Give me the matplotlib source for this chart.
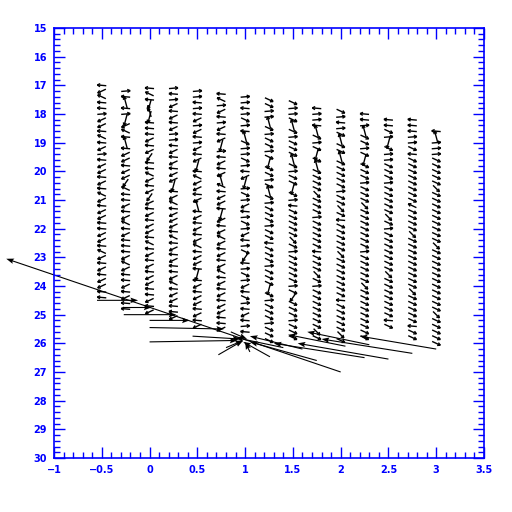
import numpy as np
import matplotlib.pyplot as plt
from matplotlib.collections import LineCollection
from matplotlib.ticker import MultipleLocator

# ---------------------------------------------------------
# data
# ---------------------------------------------------------
col_x = [-0.5, -0.25, 0.0, 0.25, 0.5, 0.75, 1.0, 1.25, 1.5, 1.75, 2.0, 2.25, 2.5, 2.75, 3.0]
col_top = [17.0, 17.2, 17.1, 17.1, 17.2, 17.3, 17.4, 17.5, 17.6, 17.8, 17.9, 18.0, 18.2, 18.2, 18.6]
row_step = 0.2

# one code per grid point, top to bottom (screen direction of the small arrow)
col_dirs = [
    "lzqllrzzlqlzrlzzlzlqzlzzllzzlqzlzlzzll",
    "rlUlrDzqlUlzzlzzZqllzlzqlzlllzqzllzlzll",
    "lqlDUDlllzlzZllqzlzZzlzlzzlqlzlzlzzllzlz",
    "rlrzlzlzrrlzlzlzzDlzqlzzzlqlzlzllzqlzzllz",
    "rrlrlzrzlrzlzDlqzzlzUlzlzlzqlzzlDlzlzzlzlz",
    "lqrzlrzlzDrlzlzUqlzzlDzlzqzlzlzqlzlzlzzllz",
    "rrlrcrlUcrrcrlzDrcrzlrcrzlrcZlrcrzlcrlzlrl",
    "ccrrUcrccrcDccrcUcrcccrcclcccrcccDcrcccrccc",
    "crrcUcrcccUcrccDcrlcccccCcrcccccrcZcccrccc",
    "lrrlUcrcDcUccccCcccrccccclcccCcrcccccccCc",
    "crlrcUccUcccccrccCclcccccCccccccclcccccCc",
    "llrUccrcDcccrcccCcccccccrcccccCccccccccc",
    "llcrDcrrcccrcccccCcrcccccccCccccccclc",
    "lllrrclccccccccqccccCcccccccccCccccclcc",
    "lUrrrcccccCcccccccccCcccccccccccCccccc",
]
dir_angle = {"l": 175, "q": 155, "z": 205, "Z": 235, "d": 270, "D": 255,
             "r": 5, "c": -25, "C": -45, "e": 30, "u": 90, "U": 105}
dir_len = {"U": 12, "D": 12}

# long arrows: tail x, tail y, head x, head y
long_x0 = [2.0, -0.55, -0.27, -0.27, 0.0, 0.0, 0.0, 0.45, 0.72, 1.26, 1.75, 2.25, 2.5, 2.75, 3.0, 1.4, 1.6, 2.05, 2.3, 0.8, 0.85, 1.05]
long_y0 = [27.0, 24.5, 24.75, 25.0, 25.2, 25.45, 25.95, 25.75, 26.4, 26.47, 26.6, 26.5, 26.55, 26.35, 26.2, 26.15, 26.2, 26.1, 26.05, 26.15, 25.6, 26.3]
long_x1 = [-1.5, -0.12, 0.02, 0.28, 0.42, 0.78, 0.92, 0.95, 0.98, 0.98, 1.05, 1.3, 1.55, 1.8, 2.2, 0.9, 1.05, 1.45, 1.65, 0.98, 1.02, 1.0]
long_y1 = [23.05, 24.5, 24.75, 25.0, 25.2, 25.5, 25.9, 25.85, 25.9, 25.95, 25.95, 26.0, 26.0, 25.85, 25.75, 25.8, 25.75, 25.7, 25.6, 25.9, 25.85, 25.95]

# ---------------------------------------------------------
# figure
# ---------------------------------------------------------
blue = "#0000ff"
fig = plt.figure(figsize=(5.12, 5.12), dpi=100)
ax = fig.add_axes([0.1055, 0.1055, 0.8398, 0.8398])
ax.set_xlim(-1, 3.5)
ax.set_ylim(30, 15)

# pixels per data unit (axes box is 430 px square)
px_x = 430 / 4.5
px_y = 430 / 15.0


def to_data(x, y, px, py):
    # pixel offset (screen, y up) -> data point
    return (x + px / px_x, y - py / px_y)


# small arrows: shaft + open chevron head
segs = []
for cx, top, codes in zip(col_x, col_top, col_dirs):
    for i, ch in enumerate(codes):
        a = np.deg2rad(dir_angle[ch])
        L = dir_len.get(ch, 9)
        y = top + row_step * i
        hx, hy = 0.5 * L * np.cos(a), 0.5 * L * np.sin(a)
        head = to_data(cx, y, hx, hy)
        tail = to_data(cx, y, -hx, -hy)
        segs.append([tail, head])
        for b in (0.5, -0.5):
            bx = hx - 3.2 * np.cos(a + b)
            by = hy - 3.2 * np.sin(a + b)
            segs.append([head, to_data(cx, y, bx, by)])
ax.add_collection(LineCollection(segs, colors="black", linewidths=1.0))

lx0 = np.array(long_x0); ly0 = np.array(long_y0)
q = ax.quiver(lx0, ly0, np.array(long_x1) - lx0, np.array(long_y1) - ly0,
              angles="xy", scale_units="xy", scale=1, units="dots", width=1.1,
              headwidth=5, headlength=7, headaxislength=6, color="black")
q.set_clip_on(False)

ax.xaxis.set_major_locator(MultipleLocator(0.5))
ax.xaxis.set_minor_locator(MultipleLocator(0.1))
ax.yaxis.set_major_locator(MultipleLocator(1))
ax.yaxis.set_minor_locator(MultipleLocator(0.2))
ax.xaxis.set_major_formatter(plt.FuncFormatter(lambda v, p: f"{v:g}".replace("-", "\u2212")))

for s in ax.spines.values():
    s.set_color(blue)
    s.set_linewidth(1.2)
ax.tick_params(which="both", direction="in", top=True, right=True, colors=blue, width=1)
ax.tick_params(which="major", length=8, labelsize=7, pad=5)
ax.tick_params(which="minor", length=4)
for lab in ax.get_xticklabels() + ax.get_yticklabels():
    lab.set_fontweight("bold")

fig.savefig("out.png", dpi=100)
